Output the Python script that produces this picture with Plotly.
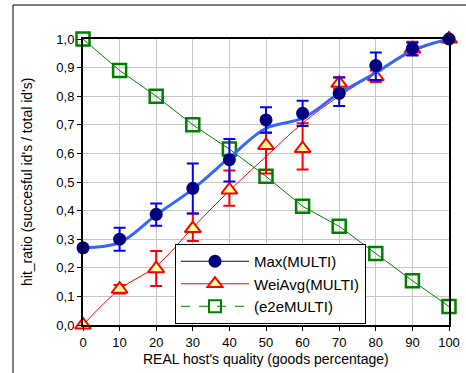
import plotly.graph_objects as go

x = [0, 10, 20, 30, 40, 50, 60, 70, 80, 90, 100]

max_multi = [0.27, 0.30, 0.387, 0.478, 0.578, 0.717, 0.74, 0.81, 0.907, 0.967, 1.0]
max_err_plus = [0.0, 0.04, 0.038, 0.087, 0.072, 0.044, 0.044, 0.055, 0.046, 0.02, 0.0]
max_err_minus = [0.0, 0.04, 0.04, 0.088, 0.076, 0.045, 0.044, 0.044, 0.05, 0.025, 0.0]
max_trend = [0.27, 0.288, 0.385, 0.475, 0.585, 0.688, 0.723, 0.81, 0.882, 0.96, 1.0]

wei_avg = [0.0, 0.125, 0.197, 0.337, 0.472, 0.628, 0.617, 0.845, 0.868, 0.965, 1.0]
wei_err_plus = [0.0, 0.015, 0.062, 0.053, 0.068, 0.045, 0.088, 0.021, 0.022, 0.025, 0.0]
wei_err_minus = [0.0, 0.015, 0.061, 0.043, 0.055, 0.098, 0.073, 0.02, 0.018, 0.021, 0.0]
wei_trend = [0.0, 0.125, 0.206, 0.34, 0.47, 0.589, 0.706, 0.80, 0.88, 0.955, 1.0]

e2e_multi = [1.0, 0.89, 0.80, 0.70, 0.615, 0.52, 0.415, 0.345, 0.25, 0.155, 0.065]

x_ticks = [0, 10, 20, 30, 40, 50, 60, 70, 80, 90, 100]
y_ticks = [0.0, 0.1, 0.2, 0.3, 0.4, 0.5, 0.6, 0.7, 0.8, 0.9, 1.0]
y_tick_labels = ["0,0", "0,1", "0,2", "0,3", "0,4", "0,5", "0,6", "0,7", "0,8", "0,9", "1,0"]

NAVY = "#000080"
BLUE = "#0000FF"
LBLUE = "#3366FF"
RED = "#FF0000"
GREEN = "#008000"
YEL = "#FFFF99"

L, R, T, B = 83, 449, 39, 325
PW, PH = R - L, B - T

fig = go.Figure()

# green line + squares
fig.add_trace(go.Scatter(
    x=x, y=e2e_multi, mode="lines+markers", showlegend=False, cliponaxis=False,
    line=dict(color=GREEN, width=1),
    marker=dict(symbol="square-open", size=13, color=GREEN, line=dict(width=2.5, color=GREEN)),
))

# red trend line
fig.add_trace(go.Scatter(
    x=x, y=wei_trend, mode="lines", showlegend=False,
    line=dict(color=RED, width=1, shape="spline", smoothing=1.0),
))

# red triangles
fig.add_trace(go.Scatter(
    x=x, y=wei_avg, mode="markers", showlegend=False, cliponaxis=False,
    marker=dict(symbol="triangle-up", size=14, color=YEL, line=dict(width=2, color=RED)),
    error_y=dict(type="data", symmetric=False, array=wei_err_plus, arrayminus=wei_err_minus,
                 color=RED, thickness=2, width=6),
))

# blue smooth trend
fig.add_trace(go.Scatter(
    x=x, y=max_trend, mode="lines", showlegend=False,
    line=dict(color=LBLUE, width=3, shape="spline", smoothing=1.0),
))

# Max markers
fig.add_trace(go.Scatter(
    x=x, y=max_multi, mode="markers", showlegend=False, cliponaxis=False,
    marker=dict(symbol="circle", size=13, color=NAVY),
    error_y=dict(type="data", symmetric=False, array=max_err_plus, arrayminus=max_err_minus,
                 color=BLUE, thickness=2, width=6),
))

# legend entries
fig.add_trace(go.Scatter(
    x=[None], y=[None], mode="lines+markers", name="Max(MULTI)",
    line=dict(color=NAVY, width=1),
    marker=dict(symbol="circle", size=13, color=NAVY),
))
fig.add_trace(go.Scatter(
    x=[None], y=[None], mode="lines+markers", name="WeiAvg(MULTI)",
    line=dict(color=RED, width=1),
    marker=dict(symbol="triangle-up", size=13, color=YEL, line=dict(width=2, color=RED)),
))
fig.add_trace(go.Scatter(
    x=[None], y=[None], mode="lines+markers", name="(e2eMULTI)",
    line=dict(color=GREEN, width=1, dash="dash"),
    marker=dict(symbol="square-open", size=12, color=GREEN, line=dict(width=2, color=GREEN)),
))

fig.update_layout(
    width=466, height=373,
    margin=dict(l=L, r=466 - R, t=T, b=373 - B),
    paper_bgcolor="white", plot_bgcolor="white",
    font=dict(family="Liberation Sans, Arial, sans-serif", size=13, color="black"),
    legend=dict(
        x=(175 - L) / PW, y=(B - 244) / PH, xanchor="left", yanchor="top",
        bgcolor="white", bordercolor="black", borderwidth=1,
        font=dict(size=15), tracegroupgap=0, itemwidth=68,
    ),
    shapes=[dict(type="rect", xref="paper", yref="paper",
                 x0=(13 - L) / PW, x1=1.2, y0=-0.3, y1=(B - 5) / PH,
                 line=dict(color="black", width=1), layer="below")],
    annotations=[
        dict(text="REAL host's quality (goods percentage)", xref="paper", yref="paper",
             x=(266 - L) / PW, y=(B - 359) / PH, xanchor="center", yanchor="middle",
             showarrow=False, font=dict(size=14)),
        dict(text="hit_ratio (succesful id's / total id's)", xref="paper", yref="paper",
             x=(27 - L) / PW, y=(B - 182) / PH, xanchor="center", yanchor="middle",
             showarrow=False, textangle=-90, font=dict(size=14)),
    ],
)

fig.update_xaxes(
    range=[0, 100], tickvals=x_ticks, showgrid=True, gridcolor="#C8C8C8", gridwidth=1,
    showline=True, linecolor="black", linewidth=2, mirror=True,
    ticks="outside", ticklen=4, tickcolor="black", automargin=False,
    zeroline=False,
)
fig.update_yaxes(
    range=[0, 1], tickvals=y_ticks, ticktext=y_tick_labels, showgrid=True, gridcolor="#C8C8C8", gridwidth=1,
    showline=True, linecolor="black", linewidth=2, mirror=True,
    ticks="outside", ticklen=4, tickcolor="black", automargin=False,
    zeroline=False,
)

fig.write_html("out.html", config={"displayModeBar": False},
               post_script="document.body.style.margin='0';document.body.style.overflow='hidden';")
